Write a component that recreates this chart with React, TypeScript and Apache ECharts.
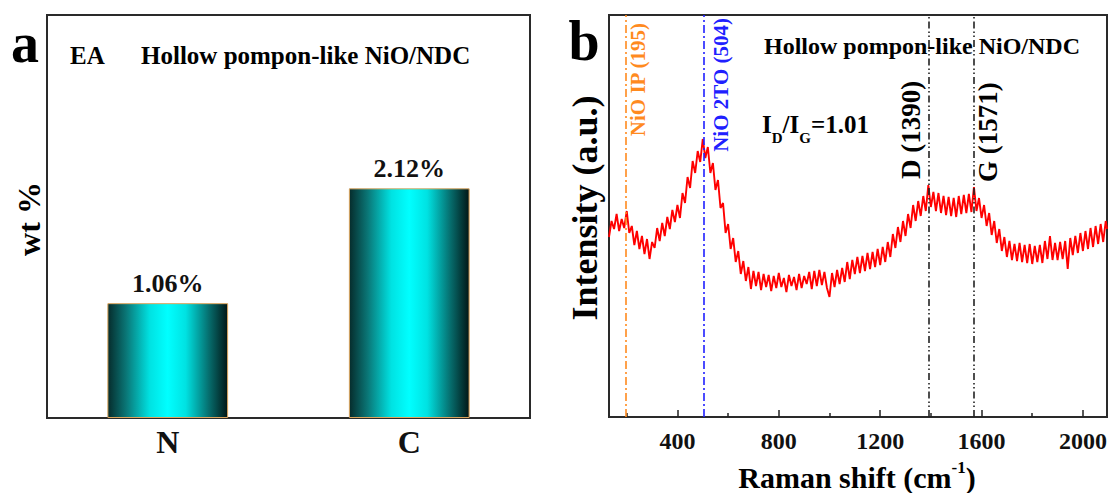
import React, { useEffect, useRef } from "react";
import * as echarts from "echarts";

const FONT = "'Times New Roman', 'Liberation Serif', serif";

// Panel a: elemental analysis
const elements = ["N", "C"];
const wtPercent = [1.06, 2.12];

// Panel b: Raman spectrum
const ramanShift = [
  130, 140, 150, 160, 170, 180, 190, 200, 210, 220, 230, 240, 250, 260, 270, 280, 290, 300, 310, 320,
  330, 340, 350, 360, 370, 380, 390, 400, 410, 420, 430, 440, 450, 460, 470, 480, 490, 500, 510, 520,
  530, 540, 550, 560, 570, 580, 590, 600, 610, 620, 630, 640, 650, 660, 670, 680, 690, 700, 710, 720,
  730, 740, 750, 760, 770, 780, 790, 800, 810, 820, 830, 840, 850, 860, 870, 880, 890, 900, 910, 920,
  930, 940, 950, 960, 970, 980, 990, 1000, 1010, 1020, 1030, 1040, 1050, 1060, 1070, 1080, 1090, 1100, 1110, 1120,
  1130, 1140, 1150, 1160, 1170, 1180, 1190, 1200, 1210, 1220, 1230, 1240, 1250, 1260, 1270, 1280, 1290, 1300, 1310, 1320,
  1330, 1340, 1350, 1360, 1370, 1380, 1390, 1400, 1410, 1420, 1430, 1440, 1450, 1460, 1470, 1480, 1490, 1500, 1510, 1520,
  1530, 1540, 1550, 1560, 1570, 1580, 1590, 1600, 1610, 1620, 1630, 1640, 1650, 1660, 1670, 1680, 1690, 1700, 1710, 1720,
  1730, 1740, 1750, 1760, 1770, 1780, 1790, 1800, 1810, 1820, 1830, 1840, 1850, 1860, 1870, 1880, 1890, 1900, 1910, 1920,
  1930, 1940, 1950, 1960, 1970, 1980, 1990, 2000, 2010, 2020, 2030, 2040, 2050, 2060, 2070, 2080, 2090, 2095,
];
const intensity = [
  180, 196, 188, 203, 186, 198, 189, 206, 184, 191, 172, 186, 168, 181, 163, 178, 158, 175, 169, 189,
  176, 194, 181, 200, 188, 207, 195, 212, 199, 224, 214, 240, 229, 256, 244, 266, 255, 278, 259, 270,
  244, 254, 227, 237, 209, 214, 184, 193, 168, 179, 155, 166, 143, 156, 136, 150, 128, 146, 131, 145,
  127, 143, 130, 142, 126, 141, 129, 144, 130, 139, 125, 142, 131, 140, 127, 143, 129, 141, 133, 145,
  128, 146, 131, 147, 132, 145, 129, 120, 144, 130, 147, 133, 149, 135, 155, 138, 157, 143, 160, 144,
  161, 146, 164, 148, 165, 150, 168, 152, 170, 155, 175, 160, 183, 169, 190, 175, 196, 181, 203, 189,
  212, 196, 216, 201, 221, 206, 232, 210, 225, 206, 224, 204, 221, 202, 220, 201, 219, 200, 221, 203,
  222, 204, 223, 205, 230, 206, 219, 199, 212, 191, 204, 182, 196, 174, 188, 166, 180, 160, 176, 157,
  173, 156, 174, 155, 172, 154, 173, 153, 171, 155, 172, 154, 176, 158, 181, 157, 174, 157, 175, 158,
  176, 148, 179, 162, 181, 164, 184, 166, 186, 168, 189, 170, 191, 173, 193, 175, 196, 188,
];

const xMajorTicks = [400, 800, 1200, 1600, 2000];
const xMinorTicks = [200, 600, 1000, 1400, 1800];

const peakPositions = [195, 504, 1390, 1571];
const peakLabels = ["NiO IP (195)", "NiO 2TO (504)", "D (1390)", "G (1571)"];
const peakColors = ["#ff8a1e", "#2020ff", "#222222", "#222222"];

export default function App() {
  const ref = useRef<HTMLDivElement>(null);

  useEffect(() => {
    if (!ref.current) return;
    const chart = echarts.init(ref.current, null, { renderer: "svg" });

    const barGradient = new echarts.graphic.LinearGradient(0, 0, 1, 0, [
      { offset: 0, color: "#062c2c" },
      { offset: 0.15, color: "#0a7575" },
      { offset: 0.35, color: "#00e2e2" },
      { offset: 0.5, color: "#00ffff" },
      { offset: 0.65, color: "#00e2e2" },
      { offset: 0.85, color: "#066a6a" },
      { offset: 1, color: "#011616" },
    ]);

    const dashDot = [8, 3, 2, 3];
    const dashDotDot = [7, 3, 1.5, 2.5, 1.5, 3];

    chart.setOption({
      animation: false,
      backgroundColor: "#ffffff",
      textStyle: { fontFamily: FONT },
      grid: [
        { left: 47, top: 15, width: 483, height: 403, show: true, borderColor: "#2a2a2a", borderWidth: 2, backgroundColor: "transparent" },
        { left: 609, top: 15, width: 498, height: 402, show: true, borderColor: "#2a2a2a", borderWidth: 2, backgroundColor: "transparent" },
      ],
      xAxis: [
        {
          type: "category",
          gridIndex: 0,
          data: elements,
          axisLine: { show: false },
          axisTick: { show: false },
          axisLabel: { fontSize: 32, fontWeight: "bold", color: "#111", fontFamily: FONT, margin: 8 },
        },
        {
          type: "value",
          gridIndex: 1,
          min: 130,
          max: 2095,
          axisLine: { show: false },
          splitLine: { show: false },
          axisTick: { show: true, inside: true, length: 7, customValues: xMajorTicks, lineStyle: { color: "#222", width: 1.5 } },
          axisLabel: {
            customValues: xMajorTicks,
            formatter: (v: number) => String(v),
            fontSize: 24,
            fontWeight: "bold",
            color: "#111",
            fontFamily: FONT,
            margin: 12,
          },
        },
        {
          type: "value",
          gridIndex: 1,
          min: 130,
          max: 2095,
          position: "bottom",
          axisLine: { show: false },
          splitLine: { show: false },
          axisTick: { show: true, inside: true, length: 4, customValues: xMinorTicks, lineStyle: { color: "#222", width: 1.5 } },
          axisLabel: { show: false },
        },
      ],
      yAxis: [
        { type: "value", gridIndex: 0, min: 0, max: 3.72, show: false },
        { type: "value", gridIndex: 1, min: 0, max: 402, show: false },
      ],
      series: [
        {
          type: "bar",
          xAxisIndex: 0,
          yAxisIndex: 0,
          data: wtPercent,
          barWidth: "50%",
          itemStyle: { color: barGradient, borderColor: "#dba55e", borderWidth: 1 },
          label: {
            show: true,
            position: "top",
            distance: 7,
            formatter: (p: any) => `${p.value.toFixed(2)}%`,
            fontSize: 26,
            fontWeight: "bold",
            color: "#111",
            fontFamily: FONT,
          },
        },
        {
          type: "line",
          xAxisIndex: 1,
          yAxisIndex: 1,
          data: ramanShift.map((x, i) => [x, intensity[i]]),
          showSymbol: false,
          symbol: "none",
          lineStyle: { color: "#ff0000", width: 1.9 },
          markLine: {
            silent: true,
            symbol: "none",
            label: { show: false },
            data: peakPositions.map((p, i) => ({
              xAxis: p,
              lineStyle: { color: peakColors[i], width: 1.6, type: i < 2 ? dashDot : dashDotDot },
            })),
          },
        },
      ],
    });

    const px = (v: number) => chart.convertToPixel({ xAxisIndex: 1 }, v) as number;

    const boldText = (text: string, size: number, color = "#000") => ({
      text,
      fontSize: size,
      fontWeight: "bold",
      fontFamily: FONT,
      fill: color,
    });

    chart.setOption({
      graphic: [
        { type: "text", x: 25, y: 43, style: { ...boldText("a", 56), align: "center", verticalAlign: "middle" } },
        { type: "text", x: 584, y: 41, style: { ...boldText("b", 56), align: "center", verticalAlign: "middle" } },
        { type: "text", x: 70, y: 55, style: { ...boldText("EA", 25), align: "left", verticalAlign: "middle" } },
        { type: "text", x: 141, y: 55, style: { ...boldText("Hollow pompon-like NiO/NDC", 25), align: "left", verticalAlign: "middle" } },
        { type: "text", x: 764, y: 46, style: { ...boldText("Hollow pompon-like NiO/NDC", 24), align: "left", verticalAlign: "middle" } },
        {
          type: "text",
          x: 762,
          y: 124,
          style: {
            text: "{n|I}{s|D}{n|/I}{s|G}{n|=1.01}",
            align: "left",
            verticalAlign: "middle",
            rich: {
              n: { fontSize: 25, fontWeight: "bold", fontFamily: FONT, fill: "#000" },
              s: { fontSize: 15, fontWeight: "bold", fontFamily: FONT, fill: "#000", padding: [27, 0, 0, 0] },
            },
          },
        },
        { type: "text", x: 29, y: 219, rotation: Math.PI / 2, style: { ...boldText("wt %", 32), align: "center", verticalAlign: "middle" } },
        { type: "text", x: 585, y: 208, rotation: Math.PI / 2, style: { ...boldText("Intensity (a.u.)", 36), align: "center", verticalAlign: "middle" } },
        {
          type: "text",
          x: 857,
          y: 477,
          style: {
            text: "{n|Raman shift (cm}{p|-1}{n|)}",
            align: "center",
            verticalAlign: "middle",
            rich: {
              n: { fontSize: 30, fontWeight: "bold", fontFamily: FONT, fill: "#000" },
              p: { fontSize: 17, fontWeight: "bold", fontFamily: FONT, fill: "#000", padding: [0, 0, 20, 0] },
            },
          },
        },
        { type: "text", x: px(peakPositions[0]) + 13, y: 23, rotation: Math.PI / 2, style: { ...boldText(peakLabels[0], 21, peakColors[0]), align: "right", verticalAlign: "middle" } },
        { type: "text", x: px(peakPositions[1]) + 17, y: 18, rotation: Math.PI / 2, style: { ...boldText(peakLabels[1], 21, peakColors[1]), align: "right", verticalAlign: "middle" } },
        { type: "text", x: px(peakPositions[2]) - 17, y: 179, rotation: Math.PI / 2, style: { ...boldText(peakLabels[2], 27, "#000"), align: "left", verticalAlign: "middle" } },
        { type: "text", x: px(peakPositions[3]) + 14, y: 182, rotation: Math.PI / 2, style: { ...boldText(peakLabels[3], 27, "#000"), align: "left", verticalAlign: "middle" } },
      ],
    });

    return () => chart.dispose();
  }, []);

  return <div ref={ref} style={{ position: "absolute", left: 0, top: 0, width: 1110, height: 493 }} />;
}
